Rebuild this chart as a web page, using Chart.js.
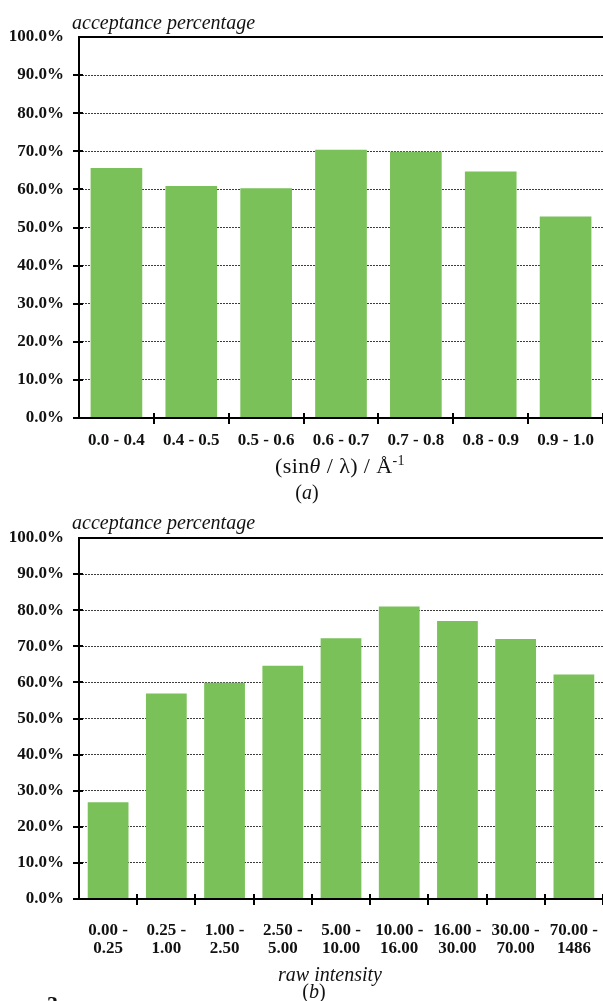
<!DOCTYPE html>
<html>
<head>
<meta charset="utf-8">
<script src="https://cdn.jsdelivr.net/npm/chart.js@4.4.1/dist/chart.umd.min.js"></script>
<style>
  html, body { margin: 0; padding: 0; background: #fff; }
  #page { position: relative; width: 603px; height: 1001px; overflow: hidden;
          font-family: "Liberation Serif", serif; color: #111; }
  canvas { position: absolute; left: 0; }
  .lbl { position: absolute; white-space: nowrap; }
  .c { transform: translate(-50%, -50%); }
  .l { transform: translate(0, -50%); }
  .it { font-style: italic; font-size: 20px; }
  .up { font-size: 20px; }
  .ax { font-size: 22px; letter-spacing: 0.4px; }
  sup { font-size: 14px; vertical-align: 8px; line-height: 0; }
</style>
</head>
<body>
<div id="page">
  <canvas id="byResolution" width="603" height="500" style="top:0"></canvas>
  <canvas id="byIntensity" width="603" height="501" style="top:500px"></canvas>

  <div class="lbl l it" style="left:72px; top:22px">acceptance percentage</div>
  <div class="lbl c ax" style="left:340px; top:466px">(sin<i>θ</i> / λ) / Å<sup>-1</sup></div>
  <div class="lbl c up" style="left:307px; top:492px">(<i>a</i>)</div>

  <div class="lbl l it" style="left:72px; top:522px">acceptance percentage</div>
  <div class="lbl c it" style="left:330px; top:974px">raw intensity</div>
  <div class="lbl c up" style="left:314px; top:991px">(<i>b</i>)</div>
  <div class="lbl" style="left:47px; top:993px; font-weight:bold; font-size:22px; line-height:22px">3</div>
</div>

<script>
// Acceptance by resolution shell, sin(theta)/lambda in 1/Å
const resolutionBins = ['0.0 - 0.4', '0.4 - 0.5', '0.5 - 0.6', '0.6 - 0.7', '0.7 - 0.8', '0.8 - 0.9', '0.9 - 1.0'];
const resolutionAcceptance = [65.6, 60.9, 60.3, 70.4, 69.9, 64.7, 52.9];

// Acceptance by raw intensity range
const intensityBins = [
  ['0.00 -', '0.25'], ['0.25 -', '1.00'], ['1.00 -', '2.50'],
  ['2.50 -', '5.00'], ['5.00 -', '10.00'], ['10.00 -', '16.00'],
  ['16.00 -', '30.00'], ['30.00 -', '70.00'], ['70.00 -', '1486']
];
const intensityAcceptance = [26.8, 56.9, 59.9, 64.6, 72.2, 81.0, 77.0, 72.0, 62.2];

// Percentage axis
const percentMin = 0;
const percentMax = 100;
const percentStep = 10;

const BAR_GREEN = '#79C158';
const TICK_FONT = { family: 'Liberation Serif', size: 17, weight: 'bold', lineHeight: 1.1 };

// Axis lines, the frame line at 100 % and the short tick marks that cross the axes
const axisMarks = {
  id: 'axisMarks',
  afterDatasetsDraw(chart) {
    const { ctx, chartArea: a, scales: { x, y } } = chart;
    ctx.save();
    ctx.strokeStyle = '#000';
    ctx.lineWidth = 2;
    ctx.beginPath();
    const top = Math.round(y.getPixelForValue(y.max));
    const bottom = Math.round(y.getPixelForValue(y.min));
    // top frame line
    ctx.moveTo(a.left - 1, top);
    ctx.lineTo(a.right, top);
    // vertical axis
    ctx.moveTo(a.left, top - 1);
    ctx.lineTo(a.left, bottom + 1);
    // horizontal axis
    ctx.moveTo(a.left - 1, bottom);
    ctx.lineTo(a.right, bottom);
    // ticks on the value axis
    y.ticks.forEach(t => {
      if (t.value >= y.max) return;
      const py = Math.round(y.getPixelForValue(t.value));
      ctx.moveTo(a.left - 6, py);
      ctx.lineTo(a.left + 4, py);
    });
    // ticks between categories
    const n = x.ticks.length;
    for (let i = 1; i <= n; i++) {
      const px = i < n
        ? Math.round((x.getPixelForValue(i - 1) + x.getPixelForValue(i)) / 2)
        : a.right;
      ctx.moveTo(px, bottom - 5);
      ctx.lineTo(px, bottom + 6);
    }
    ctx.stroke();
    ctx.restore();
  }
};

function buildBarChart(canvasId, labels, values, plotTop, axisHeight, barPct, labelPad) {
  return new Chart(document.getElementById(canvasId), {
    type: 'bar',
    data: {
      labels: labels,
      datasets: [{
        data: values,
        backgroundColor: BAR_GREEN,
        borderWidth: 0,
        barPercentage: barPct,
        categoryPercentage: 1.0
      }]
    },
    options: {
      responsive: false,
      animation: false,
      devicePixelRatio: 1,
      layout: { padding: { top: plotTop, left: 0, right: 0, bottom: 0 } },
      plugins: { legend: { display: false }, tooltip: { enabled: false }, title: { display: false } },
      scales: {
        x: {
          grid: { display: false },
          border: { display: false },
          ticks: { color: '#111', font: TICK_FONT, padding: labelPad, maxRotation: 0, autoSkip: false },
          afterFit(scale) {
            scale.height = axisHeight;
            // plot runs to the right edge of the canvas
            scale.paddingLeft = 0;
            scale.paddingRight = 0;
          }
        },
        y: {
          min: percentMin,
          max: percentMax,
          grid: {
            drawTicks: false,
            lineWidth: 1,
            color: c => (c.tick && (c.tick.value === percentMin || c.tick.value === percentMax)) ? 'rgba(0,0,0,0)' : '#3c3c3c'
          },
          border: { display: false, dash: [2, 1] },
          ticks: {
            stepSize: percentStep,
            color: '#111',
            font: TICK_FONT,
            padding: 15,
            callback: v => v.toFixed(1) + '%'
          },
          afterFit(scale) { scale.width = 79; }
        }
      }
    },
    plugins: [axisMarks]
  });
}

buildBarChart('byResolution', resolutionBins, resolutionAcceptance, 37, 82, 0.69, 5);
buildBarChart('byIntensity', intensityBins, intensityAcceptance, 38, 102, 0.70, 14);
</script>
</body>
</html>
